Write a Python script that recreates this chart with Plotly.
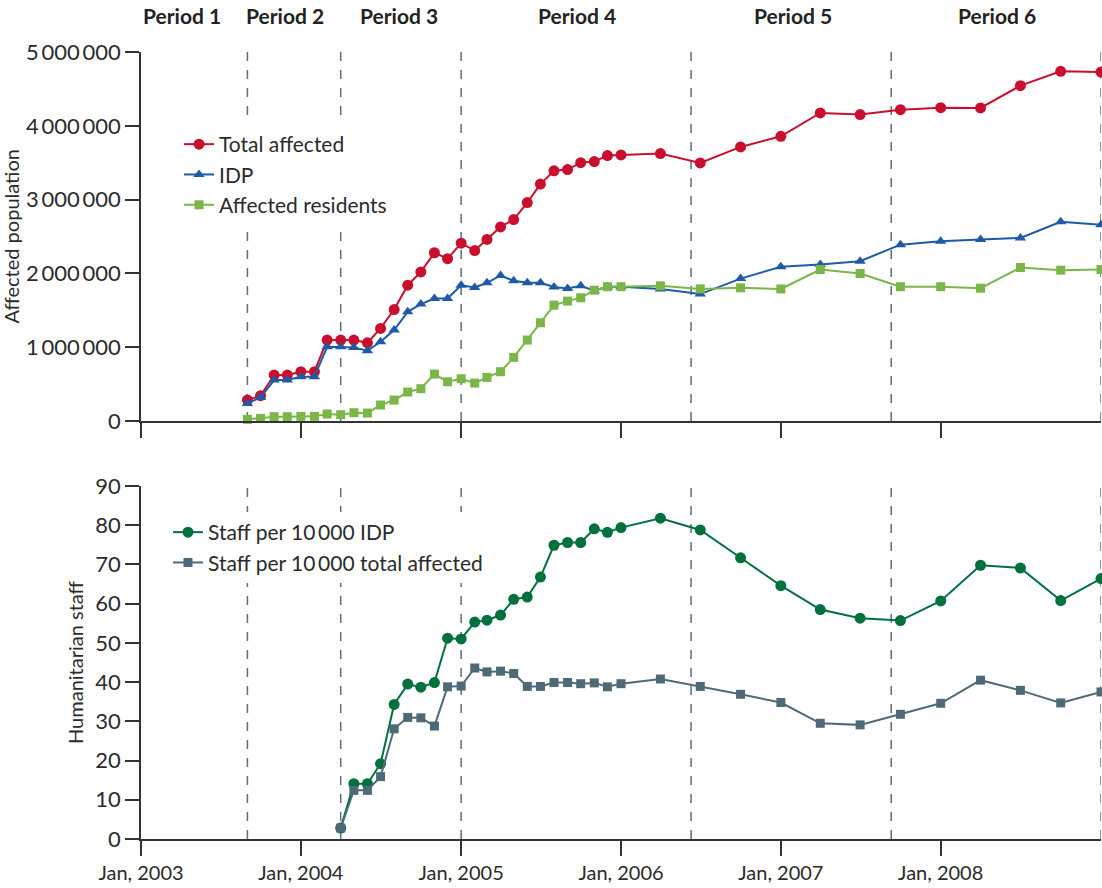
import plotly.graph_objects as go
from plotly.subplots import make_subplots

# ---- data ----
pop_dates = [
    "2003-09-01", "2003-10-01", "2003-11-01", "2003-12-01",
    "2004-01-01", "2004-02-01", "2004-03-01", "2004-04-01", "2004-05-01", "2004-06-01",
    "2004-07-01", "2004-08-01", "2004-09-01", "2004-10-01", "2004-11-01", "2004-12-01",
    "2005-01-01", "2005-02-01", "2005-03-01", "2005-04-01", "2005-05-01", "2005-06-01",
    "2005-07-01", "2005-08-01", "2005-09-01", "2005-10-01", "2005-11-01", "2005-12-01",
    "2006-01-01", "2006-04-01", "2006-07-01", "2006-10-01",
    "2007-01-01", "2007-04-01", "2007-07-01", "2007-10-01",
    "2008-01-01", "2008-04-01", "2008-07-01", "2008-10-01", "2009-01-01",
]
total_affected = [
    284000, 343000, 623000, 623000,
    668000, 668000, 1097000, 1097000, 1097000, 1060000,
    1255000, 1510000, 1840000, 2020000, 2280000, 2200000,
    2410000, 2310000, 2460000, 2630000, 2730000, 2960000,
    3210000, 3390000, 3407000, 3500000, 3515000, 3597000,
    3606000, 3624000, 3497000, 3714000,
    3858000, 4174000, 4152000, 4219000,
    4246000, 4242000, 4544000, 4738000, 4729000,
]
idp = [
    239000, 320000, 555000, 555000,
    600000, 600000, 1006000, 1006000, 997000, 952000,
    1074000, 1232000, 1480000, 1584000, 1660000, 1660000,
    1840000, 1810000, 1873000, 1972000, 1900000, 1873000,
    1873000, 1815000, 1796000, 1832000, 1765000, 1820000,
    1820000, 1790000, 1720000, 1930000,
    2090000, 2120000, 2166000, 2390000,
    2437000, 2460000, 2480000, 2700000, 2660000,
]
affected_residents = [
    23000, 36000, 59000, 59000,
    63000, 63000, 95000, 86000, 113000, 108000,
    217000, 284000, 393000, 438000, 636000, 532000,
    573000, 514000, 591000, 668000, 862000, 1097000,
    1331000, 1570000, 1625000, 1670000, 1773000, 1820000,
    1820000, 1832000, 1790000, 1805000,
    1790000, 2053000, 1999000, 1820000,
    1820000, 1800000, 2080000, 2044000, 2053000,
]

staff_dates = [
    "2004-04-01", "2004-05-01", "2004-06-01",
    "2004-07-01", "2004-08-01", "2004-09-01", "2004-10-01", "2004-11-01", "2004-12-01",
    "2005-01-01", "2005-02-01", "2005-03-01", "2005-04-01", "2005-05-01", "2005-06-01",
    "2005-07-01", "2005-08-01", "2005-09-01", "2005-10-01", "2005-11-01", "2005-12-01",
    "2006-01-01", "2006-04-01", "2006-07-01", "2006-10-01",
    "2007-01-01", "2007-04-01", "2007-07-01", "2007-10-01",
    "2008-01-01", "2008-04-01", "2008-07-01", "2008-10-01", "2009-01-01",
]
staff_per_idp = [
    2.8, 14.1, 14.1,
    19.2, 34.3, 39.5, 38.7, 39.9, 51.2,
    51.0, 55.3, 55.8, 57.1, 61.1, 61.7,
    66.8, 74.9, 75.6, 75.6, 79.1, 78.2,
    79.4, 81.8, 78.8, 71.7,
    64.6, 58.5, 56.3, 55.7,
    60.7, 69.8, 69.1, 60.8, 66.4,
]
staff_per_total = [
    2.8, 12.4, 12.4,
    15.9, 28.1, 31.0, 30.9, 28.8, 38.8,
    39.0, 43.6, 42.6, 42.8, 42.2, 38.9,
    38.9, 39.9, 39.9, 39.6, 39.8, 38.8,
    39.6, 40.8, 38.9, 36.9,
    34.8, 29.5, 29.1, 31.8,
    34.6, 40.5, 37.9, 34.7, 37.5,
]

period_bounds = ["2003-09-01", "2004-04-01", "2005-01-01", "2006-06-10", "2007-09-10", "2009-01-01"]
period_labels = ["Period 1", "Period 2", "Period 3", "Period 4", "Period 5", "Period 6"]
period_centers = ["2003-04-05", "2003-11-25", "2004-08-13", "2005-09-22", "2007-01-28", "2008-05-08"]

pop_ticks = [0, 1000000, 2000000, 3000000, 4000000, 5000000]
pop_tick_text = ["0", "1\u2009000\u2009000", "2\u2009000\u2009000", "3\u2009000\u2009000",
                 "4\u2009000\u2009000", "5\u2009000\u2009000"]
staff_ticks = [0, 10, 20, 30, 40, 50, 60, 70, 80, 90]
year_ticks = ["2003-01-01", "2004-01-01", "2005-01-01", "2006-01-01", "2007-01-01", "2008-01-01"]
year_tick_text = ["Jan, 2003", "Jan, 2004", "Jan, 2005", "Jan, 2006", "Jan, 2007", "Jan, 2008"]

# ---- styles ----
FONT = "Lato, 'Open Sans', sans-serif"
TXT = "#2b2b2b"
AX = "#333333"
C_TOTAL = "#c8102e"
C_IDP = "#1f5aa6"
C_RES = "#7ab648"
C_SIDP = "#00703c"
C_STOT = "#4f6a77"
C_DASH = "#5b6f7c"

fig = make_subplots(rows=2, cols=1, shared_xaxes=False, vertical_spacing=0.0)

fig.add_trace(go.Scatter(x=pop_dates, y=total_affected, name="Total affected",
                         mode="lines+markers", line=dict(color=C_TOTAL, width=2),
                         marker=dict(symbol="circle", size=11, color=C_TOTAL),
                         cliponaxis=False, legend="legend"), row=1, col=1)
fig.add_trace(go.Scatter(x=pop_dates, y=idp, name="IDP",
                         mode="lines+markers", line=dict(color=C_IDP, width=2),
                         marker=dict(symbol="triangle-up", size=10, color=C_IDP),
                         cliponaxis=False, legend="legend"), row=1, col=1)
fig.add_trace(go.Scatter(x=pop_dates, y=affected_residents, name="Affected residents",
                         mode="lines+markers", line=dict(color=C_RES, width=2),
                         marker=dict(symbol="square", size=9, color=C_RES),
                         cliponaxis=False, legend="legend"), row=1, col=1)
fig.add_trace(go.Scatter(x=staff_dates, y=staff_per_idp, name="Staff per 10\u2009000 IDP",
                         mode="lines+markers", line=dict(color=C_SIDP, width=2),
                         marker=dict(symbol="circle", size=11, color=C_SIDP),
                         cliponaxis=False, legend="legend2"), row=2, col=1)
fig.add_trace(go.Scatter(x=staff_dates, y=staff_per_total, name="Staff per 10\u2009000 total affected",
                         mode="lines+markers", line=dict(color=C_STOT, width=2),
                         marker=dict(symbol="square", size=9, color=C_STOT),
                         cliponaxis=False, legend="legend2"), row=2, col=1)

# period boundary dashed lines
for d in period_bounds:
    for xr, yref in (("x", "y domain"), ("x2", "y2 domain")):
        fig.add_shape(type="line", xref=xr, yref=yref,
                      x0=d, x1=d, y0=0, y1=1, layer="below",
                      line=dict(color=C_DASH, width=1.5, dash="dash"))

for lab, c in zip(period_labels, period_centers):
    fig.add_annotation(x=c, xref="x", y=1.0, yref="paper", yshift=37, text="<b>" + lab + "</b>",
                       showarrow=False, font=dict(family=FONT, size=21, color="#222"),
                       xanchor="center", yanchor="middle")

xcommon = dict(type="date", range=["2003-01-01", "2009-01-01"], tickvals=year_ticks,
               showline=True, linecolor=AX, linewidth=1.5, ticks="outside", ticklen=15,
               tickwidth=1.5, tickcolor=AX, showgrid=False, zeroline=False)
fig.update_xaxes(**xcommon, showticklabels=False, row=1, col=1)
fig.update_xaxes(**xcommon, ticktext=year_tick_text, showticklabels=True,
                 tickfont=dict(family=FONT, size=20, color=TXT), row=2, col=1)

ycommon = dict(showline=True, linecolor=AX, linewidth=1.5, ticks="outside", ticklen=14,
               tickwidth=1.5, tickcolor=AX, showgrid=False, zeroline=False,
               tickfont=dict(family=FONT, size=22, color=TXT))
fig.update_yaxes(**ycommon, range=[0, 5000000], tickvals=pop_ticks, ticktext=pop_tick_text, row=1, col=1)
fig.update_yaxes(**ycommon, range=[0, 90], tickvals=staff_ticks, row=2, col=1)

fig.update_layout(
    xaxis=dict(domain=[0, 1]), xaxis2=dict(domain=[0, 1]),
    yaxis=dict(domain=[0.5311, 1.0]), yaxis2=dict(domain=[0.0, 0.4485]),
)

fig.add_annotation(text="Affected population", xref="paper", yref="paper",
                   x=-0.1354, y=0.7655, textangle=-90, showarrow=False,
                   font=dict(family=FONT, size=20, color=TXT), xanchor="center", yanchor="middle")
fig.add_annotation(text="Humanitarian staff", xref="paper", yref="paper",
                   x=-0.0682, y=0.2243, textangle=-90, showarrow=False,
                   font=dict(family=FONT, size=20, color=TXT), xanchor="center", yanchor="middle")

legend_common = dict(font=dict(family=FONT, size=21, color=TXT), bgcolor="rgba(255,255,255,1)",
                     borderwidth=0, xanchor="left", yanchor="top", tracegroupgap=0,
                     itemclick=False)
fig.update_layout(
    width=1102, height=888,
    margin=dict(l=141, r=1, t=52, b=49),
    plot_bgcolor="white", paper_bgcolor="white",
    font=dict(family=FONT, size=18, color=TXT),
    showlegend=True,
    legend=dict(**legend_common, x=0.0396, y=0.9085),
    legend2=dict(**legend_common, x=0.0281, y=0.4155),
)

fig.write_html("out.html", config={"displayModeBar": False},
               post_script="document.body.style.margin='0px';")
